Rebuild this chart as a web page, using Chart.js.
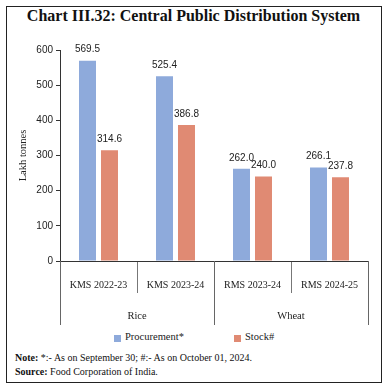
<!DOCTYPE html>
<html>
<head>
<meta charset="utf-8">
<script src="https://cdn.jsdelivr.net/npm/chart.js@4"></script>
<style>
body { margin: 0; background: #fff; }
#frame { position: absolute; left: 6px; top: 6px; width: 374px; height: 375px; border: 1.5px solid #222; }
#title { position: absolute; left: 0; top: 7px; width: 387px; text-align: center; font: bold 16px "Liberation Serif", serif; color: #111; }
#box { position: absolute; left: 6px; top: 40px; width: 375px; height: 290px; }
#legend { position: absolute; top: 331px; left: 0; width: 387px; font: 10.5px "Liberation Serif", serif; color: #222; }
#legend span { position: absolute; }
.sw { width: 7px; height: 7px; top: 4px; }
#note { position: absolute; left: 15px; top: 351px; font: 10px "Liberation Serif", serif; color: #111; line-height: 14px; }
</style>
</head>
<body>
<div id="frame"></div>
<div id="title">Chart III.32: Central Public Distribution System</div>
<div id="box"><canvas id="chart"></canvas></div>
<div id="legend">
  <span class="sw" style="left:114px;background:#8eaadb"></span><span style="left:125px">Procurement*</span>
  <span class="sw" style="left:234px;background:#e08a73"></span><span style="left:245px">Stock#</span>
</div>
<div id="note"><b>Note:</b> *:- As on September 30; #:- As on October 01, 2024.<br><b>Source:</b> Food Corporation of India.</div>
<script>
var categories = ["KMS 2022-23", "KMS 2023-24", "RMS 2023-24", "RMS 2024-25"];
var groups = ["Rice", "Wheat"];
var groupSize = 2;
var procurement = [569.5, 525.4, 262.0, 266.1];
var stock = [314.6, 386.8, 240.0, 237.8];

// values above the bars
var valueLabels = {
    id: 'valueLabels',
    afterDatasetsDraw: function (chart) {
        var ctx = chart.ctx;
        ctx.save();
        ctx.font = '10px "Liberation Sans", sans-serif';
        ctx.fillStyle = '#222';
        ctx.textAlign = 'center';
        ctx.textBaseline = 'bottom';
        chart.data.datasets.forEach(function (ds, i) {
            chart.getDatasetMeta(i).data.forEach(function (bar, j) {
                ctx.fillText(ds.data[j].toFixed(1), bar.x, bar.y - 6);
            });
        });
        ctx.restore();
    }
};

// group separators and group names under the axis
var groupAxis = {
    id: 'groupAxis',
    afterDraw: function (chart) {
        var ctx = chart.ctx;
        var x = chart.scales.x;
        var half = (x.getPixelForValue(1) - x.getPixelForValue(0)) / 2;
        var top = chart.chartArea.bottom;
        ctx.save();
        ctx.strokeStyle = '#666';
        ctx.lineWidth = 1;
        ctx.font = '10.5px "Liberation Serif", serif';
        ctx.fillStyle = '#222';
        ctx.textAlign = 'center';
        ctx.textBaseline = 'middle';
        for (var g = 0; g <= groups.length; g++) {
            var idx = g * groupSize;
            var px = idx < categories.length ? x.getPixelForValue(idx) - half : x.getPixelForValue(categories.length - 1) + half;
            px = Math.round(px) + 0.5;
            ctx.beginPath();
            ctx.moveTo(px, top);
            ctx.lineTo(px, top + 64);
            ctx.stroke();
        }
        groups.forEach(function (name, g) {
            var a = x.getPixelForValue(g * groupSize) - half;
            var b = x.getPixelForValue(g * groupSize + groupSize - 1) + half;
            ctx.fillText(name, (a + b) / 2, top + 55);
        });
        ctx.restore();
    }
};

new Chart(document.getElementById("chart").getContext("2d"), {
    type: 'bar',
    data: {
        labels: categories,
        datasets: [{
            label: "Procurement*",
            data: procurement,
            backgroundColor: '#8eaadb'
        }, {
            label: "Stock#",
            data: stock,
            backgroundColor: '#e08a73'
        }]
    },
    options: {
        responsive: true,
        maintainAspectRatio: false,
        animation: false,
        categoryPercentage: 0.571,
        barPercentage: 0.773,
        layout: { padding: { left: 0, right: 13, top: 10, bottom: 0 } },
        plugins: {
            legend: { display: false },
            tooltip: { enabled: false }
        },
        scales: {
            x: {
                offset: true,
                afterFit: function (s) { s.height = 69; },
                grid: { offset: true, drawOnChartArea: false, tickLength: 32, color: '#777' },
                border: { color: '#333' },
                ticks: {
                    padding: -14,
                    maxRotation: 0,
                    font: { family: 'Liberation Serif', size: 10 },
                    color: '#222'
                }
            },
            y: {
                min: 0,
                max: 600,
                afterFit: function (s) { s.width = 54; },
                grid: { drawOnChartArea: false, tickLength: 4, color: '#333' },
                border: { color: '#333' },
                ticks: {
                    stepSize: 100,
                    padding: 3,
                    font: { family: 'Liberation Sans', size: 10 },
                    color: '#222'
                },
                title: {
                    display: true,
                    text: 'Lakh tonnes',
                    padding: { top: 11, bottom: 0 },
                    font: { family: 'Liberation Serif', size: 10.5 },
                    color: '#222'
                }
            }
        }
    },
    plugins: [valueLabels, groupAxis]
});
</script>
</body>
</html>
